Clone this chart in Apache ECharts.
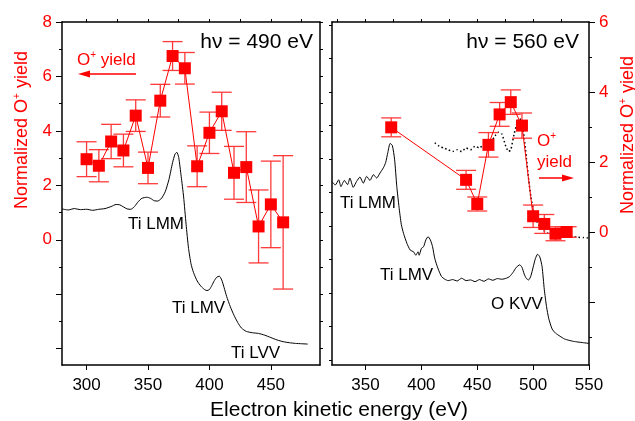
<!DOCTYPE html>
<html>
<head>
<meta charset="utf-8">
<script src="https://cdn.jsdelivr.net/npm/echarts@6/dist/echarts.min.js"></script>
<style>
  html, body { margin: 0; padding: 0; background: #fff; }
  #chart { width: 635px; height: 421px; }
</style>
</head>
<body>
<div id="chart"></div>
<script>
// 两个面板: hv = 490 eV (左) 和 hv = 560 eV (右)
var FONT = 'Arial, "Liberation Sans", sans-serif';
var RED = '#ff0000';

// 左面板 O+ 产额
var leftE = [300, 310, 320, 330, 340, 350, 360, 370, 380, 390, 400, 410, 420, 430, 440, 450, 460];
var leftYield = [2.96, 2.72, 3.61, 3.28, 4.56, 2.64, 5.11, 6.75, 6.30, 2.70, 3.93, 4.72, 2.46, 2.67, 0.49, 1.30, 0.64];
var leftErr = [0.64, 0.59, 0.63, 0.60, 0.58, 0.58, 0.60, 0.53, 0.58, 0.75, 0.76, 0.70, 0.97, 1.30, 1.34, 1.59, 2.45];

// 右面板 O+ 产额
var rightE = [373, 440, 450, 460, 470, 480, 490, 500, 510, 520, 530];
var rightYield = [2.99, 1.49, 0.80, 2.49, 3.36, 3.71, 3.04, 0.45, 0.23, -0.05, 0.00];
var rightErr = [0.27, 0.27, 0.20, 0.35, 0.34, 0.35, 0.36, 0.32, 0.27, 0.20, 0.15];

// 俄歇电子谱 (任意单位)
var leftSpecE = [280, 285, 290, 295, 300, 305, 310, 315, 320, 324, 327, 330, 333, 336, 339, 342, 345, 349, 352, 355, 358, 361, 364, 367, 370, 372, 373.5, 375, 377, 379, 381, 383, 385, 387, 390, 393, 396, 398, 400, 402, 404, 406, 408, 410, 412, 414, 417, 420, 423, 426, 430, 435, 440, 445, 450, 455, 460, 465, 470, 475, 480];
var leftSpecI = [45.5, 45.2, 45.6, 45.3, 45.4, 45.1, 45.4, 45.6, 46.2, 46.8, 46.7, 46.1, 45.5, 45.4, 46.2, 47.6, 48.6, 48.9, 48.6, 47.9, 47.8, 48.6, 50.5, 54, 59, 61.5, 62, 60.5, 55, 49, 41, 34, 29.5, 27, 24.5, 23, 22, 21.7, 22, 23.2, 24.6, 25.6, 25.9, 24.8, 22.5, 20, 17, 14.5, 12.4, 10.8, 9.8, 9.4, 9.2, 8.7, 8.0, 7.3, 6.8, 6.5, 6.3, 6.2, 6.1];

var rightSpecE = [320, 323, 326, 328, 331, 334, 336, 339, 342, 345, 348, 351, 354, 357, 360, 363, 366, 368, 370, 372, 374, 376, 378, 380, 382, 384, 387, 390, 393, 395, 397, 398, 400, 402, 404, 406, 408, 410, 412, 415, 418, 421, 424, 428, 432, 436, 440, 444, 448, 452, 456, 460, 464, 468, 472, 476, 479, 482, 485, 488, 490, 492, 494, 496, 498, 500, 502, 504, 506, 508, 510, 512, 514, 517, 520, 524, 528, 532, 536, 540, 545, 550];
var rightSpecI = [53.4, 52.5, 54, 52, 53.8, 52.6, 54.5, 51.8, 53.5, 54.8, 53, 55, 53.8, 55.5, 54.5, 56, 57.5, 59, 62, 64.6, 64, 60, 52, 46, 41, 38.4, 35.5, 33.5, 33, 32, 33, 32, 34, 34.5, 36.5, 37.4, 36.5, 34.5, 31, 28, 25.8, 25, 24.6, 24.9, 24.5, 25.3, 24.6, 24.8, 24.3, 24.9, 24.4, 25.1, 24.7, 25.2, 25, 25.3, 25.8, 27, 28.5, 29.2, 28.5, 26.5, 25.2, 24.8, 26, 28.5, 31, 32.3, 31.5, 28.7, 22, 17, 13.5, 10.5, 9.3, 8.4, 7.6, 7.2, 6.9, 6.7, 6.5, 6.3];

// 右面板虚线 (点线)
var dotE = [412, 416, 420, 424, 428, 432, 436, 440, 444, 448, 452, 456, 460, 463, 466, 469, 472, 475, 478, 480, 483, 486, 488, 490, 492, 494, 496, 498, 500, 502, 505, 508, 512, 516, 520, 525, 530, 535, 540, 545, 549];
var dotV = [2.55, 2.45, 2.4, 2.35, 2.3, 2.35, 2.3, 2.4, 2.35, 2.45, 2.4, 2.5, 2.5, 2.6, 2.75, 2.85, 2.8, 2.5, 2.3, 2.35, 2.8, 3.15, 3.25, 3.1, 2.7, 2.1, 1.5, 1.0, 0.65, 0.4, 0.2, 0.08, -0.02, -0.06, -0.08, -0.1, -0.12, -0.13, -0.15, -0.16, -0.17];

// 刻度
var leftXLabels = [300, 350, 400, 450];
var leftXMinor = [325, 375, 425, 475];
var leftXTop = [300, 325, 350, 375, 400, 425, 450, 475];
var rightXLabels = [350, 400, 450, 500, 550];
var rightXMinor = [325, 375, 425, 475, 525];
var rightXTop = [325, 350, 375, 400, 425, 450, 475, 500, 525];
var leftYLabels = [0, 2, 4, 6, 8];
var leftYMajor = [-4, -2, 0, 2, 4, 6, 8];
var leftYMinor = [-3, -1, 1, 3, 5, 7];
var leftYAll = [-4, -3, -2, -1, 0, 1, 2, 3, 4, 5, 6, 7, 8];
var rightYLabels = [0, 2, 4, 6];
var rightYMajor = [-2, 0, 2, 4, 6];
var rightYMinor = [-3, -1, 1, 3, 5];
var midTicks = [0, 1, 2, 3, 4, 5, 6, 7, 8, 9, 10];

function zip(a, b) {
  return a.map(function (v, i) { return [v, b[i]]; });
}
function errData(e, v, err) {
  return e.map(function (x, i) { return [x, v[i] - err[i], v[i] + err[i]]; });
}
function errRender(params, api) {
  var x = api.value(0);
  var lo = api.coord([x, api.value(1)]);
  var hi = api.coord([x, api.value(2)]);
  var w = 10;
  var st = { stroke: '#ff3a3a', lineWidth: 1.3 };
  return {
    type: 'group',
    children: [
      { type: 'line', shape: { x1: lo[0], y1: lo[1], x2: hi[0], y2: hi[1] }, style: st },
      { type: 'line', shape: { x1: lo[0] - w, y1: lo[1], x2: lo[0] + w, y2: lo[1] }, style: st },
      { type: 'line', shape: { x1: hi[0] - w, y1: hi[1], x2: hi[0] + w, y2: hi[1] }, style: st }
    ]
  };
}

var lineBlack = { onZero: false, lineStyle: { color: '#000', width: 1.5 } };
var noLine = { show: false, onZero: false };

function tickAxis(opts) {
  // 只画刻度线的坐标轴
  return Object.assign({
    type: 'value',
    axisLine: noLine,
    splitLine: { show: false },
    axisLabel: { show: false }
  }, opts);
}

var myChart = echarts.init(document.getElementById('chart'));

var option = {
  animation: false,
  backgroundColor: '#fff',
  grid: [
    { left: 62, top: 22, width: 258, height: 343 },
    { left: 332, top: 22, width: 257, height: 343 }
  ],
  xAxis: [
    {
      type: 'value', gridIndex: 0, min: 280, max: 490,
      axisLine: lineBlack, splitLine: { show: false },
      axisTick: { customValues: leftXLabels, length: 5, lineStyle: { color: '#000' } },
      axisLabel: { customValues: leftXLabels, color: '#000', fontSize: 17, fontFamily: FONT, margin: 12 }
    },
    tickAxis({ gridIndex: 0, min: 280, max: 490,
      axisTick: { customValues: leftXMinor, length: 3, lineStyle: { color: '#000' } } }),
    tickAxis({ gridIndex: 0, min: 280, max: 490, position: 'top',
      axisLine: lineBlack,
      axisTick: { customValues: leftXTop, length: 3, lineStyle: { color: '#000' } } }),
    {
      type: 'value', gridIndex: 1, min: 320, max: 550,
      axisLine: lineBlack, splitLine: { show: false },
      axisTick: { customValues: rightXLabels, length: 5, lineStyle: { color: '#000' } },
      axisLabel: { customValues: rightXLabels, color: '#000', fontSize: 17, fontFamily: FONT, margin: 12 }
    },
    tickAxis({ gridIndex: 1, min: 320, max: 550,
      axisTick: { customValues: rightXMinor, length: 3, lineStyle: { color: '#000' } } }),
    tickAxis({ gridIndex: 1, min: 320, max: 550, position: 'top',
      axisLine: lineBlack,
      axisTick: { customValues: rightXTop, length: 3, lineStyle: { color: '#000' } } })
  ],
  yAxis: [
    {
      type: 'value', gridIndex: 0, min: -4.6, max: 8, position: 'left',
      axisLine: lineBlack, splitLine: { show: false },
      axisTick: { customValues: leftYMajor, length: 6, lineStyle: { color: '#000' } },
      axisLabel: { customValues: leftYLabels, color: RED, fontSize: 17, fontFamily: FONT, margin: 10 }
    },
    tickAxis({ gridIndex: 0, min: -4.6, max: 8, position: 'left',
      axisTick: { customValues: leftYMinor, length: 3, lineStyle: { color: '#000' } } }),
    tickAxis({ gridIndex: 0, min: -4.6, max: 8, position: 'right',
      axisLine: lineBlack,
      axisTick: { customValues: leftYAll, length: 3, lineStyle: { color: '#000' } } }),
    { type: 'value', gridIndex: 0, min: 0, max: 100, show: false },
    tickAxis({ gridIndex: 1, min: -0.15, max: 10.09, position: 'left',
      axisLine: lineBlack,
      axisTick: { customValues: midTicks, length: 3, lineStyle: { color: '#000' } } }),
    {
      type: 'value', gridIndex: 1, min: -3.8, max: 6, position: 'right',
      axisLine: lineBlack, splitLine: { show: false },
      axisTick: { customValues: rightYMajor, length: 6, lineStyle: { color: '#000' } },
      axisLabel: { customValues: rightYLabels, color: RED, fontSize: 17, fontFamily: FONT, margin: 10 }
    },
    tickAxis({ gridIndex: 1, min: -3.8, max: 6, position: 'right',
      axisTick: { customValues: rightYMinor, length: 3, lineStyle: { color: '#000' } } }),
    { type: 'value', gridIndex: 1, min: 0, max: 100, show: false }
  ],
  series: [
    {
      type: 'line', xAxisIndex: 0, yAxisIndex: 3, data: zip(leftSpecE, leftSpecI),
      showSymbol: false, smooth: 0.2, lineStyle: { color: '#000', width: 1 }, z: 1
    },
    {
      type: 'line', xAxisIndex: 3, yAxisIndex: 7, data: zip(rightSpecE, rightSpecI),
      showSymbol: false, smooth: 0.2, lineStyle: { color: '#000', width: 1 }, z: 1
    },
    {
      type: 'line', xAxisIndex: 3, yAxisIndex: 5, data: zip(dotE, dotV),
      showSymbol: false, smooth: 0.2, lineStyle: { color: '#000', width: 1.5, type: [1.5, 2.5] }, z: 1
    },
    {
      type: 'custom', xAxisIndex: 0, yAxisIndex: 0, data: errData(leftE, leftYield, leftErr),
      renderItem: errRender, encode: { x: 0, y: [1, 2] }, z: 2
    },
    {
      type: 'custom', xAxisIndex: 3, yAxisIndex: 5, data: errData(rightE, rightYield, rightErr),
      renderItem: errRender, encode: { x: 0, y: [1, 2] }, z: 2
    },
    {
      type: 'line', xAxisIndex: 0, yAxisIndex: 0, data: zip(leftE, leftYield),
      symbol: 'rect', symbolSize: 12, itemStyle: { color: RED },
      lineStyle: { color: RED, width: 1 }, z: 3
    },
    {
      type: 'line', xAxisIndex: 3, yAxisIndex: 5, data: zip(rightE, rightYield),
      symbol: 'rect', symbolSize: 12, itemStyle: { color: RED },
      lineStyle: { color: RED, width: 1 }, z: 3
    }
  ],
  graphic: [
    { type: 'text', x: 313, y: 42, style: { text: 'hν = 490 eV', fontSize: 21, fontFamily: FONT, fill: '#000', align: 'right', verticalAlign: 'middle' } },
    { type: 'text', x: 579, y: 42, style: { text: 'hν = 560 eV', fontSize: 21, fontFamily: FONT, fill: '#000', align: 'right', verticalAlign: 'middle' } },
    { type: 'text', x: 77, y: 60, style: {
      text: '{n|O}{s|+}{n| yield}', align: 'left', verticalAlign: 'middle',
      rich: { n: { fontSize: 17, fontFamily: FONT, fill: RED, lineHeight: 20 }, s: { fontSize: 10, fontFamily: FONT, fill: RED, verticalAlign: 'top', lineHeight: 20 } } } },
    { type: 'line', shape: { x1: 88, y1: 74, x2: 136, y2: 74 }, style: { stroke: RED, lineWidth: 1.5 } },
    { type: 'polygon', shape: { points: [[78, 74], [90, 70.5], [90, 77.5]] }, style: { fill: RED } },
    { type: 'text', x: 537, y: 141, style: {
      text: '{n|O}{s|+}', align: 'left', verticalAlign: 'middle',
      rich: { n: { fontSize: 17, fontFamily: FONT, fill: RED, lineHeight: 20 }, s: { fontSize: 10, fontFamily: FONT, fill: RED, verticalAlign: 'top', lineHeight: 20 } } } },
    { type: 'text', x: 537, y: 162, style: { text: 'yield', fontSize: 17, fontFamily: FONT, fill: RED, align: 'left', verticalAlign: 'middle' } },
    { type: 'line', shape: { x1: 539, y1: 178, x2: 564, y2: 178 }, style: { stroke: RED, lineWidth: 1.5 } },
    { type: 'polygon', shape: { points: [[574, 178], [562, 174.5], [562, 181.5]] }, style: { fill: RED } },
    { type: 'text', x: 128, y: 224, style: { text: 'Ti LMM', fontSize: 17, fontFamily: FONT, fill: '#000', align: 'left', verticalAlign: 'middle' } },
    { type: 'text', x: 172, y: 308, style: { text: 'Ti LMV', fontSize: 17, fontFamily: FONT, fill: '#000', align: 'left', verticalAlign: 'middle' } },
    { type: 'text', x: 231, y: 353, style: { text: 'Ti LVV', fontSize: 17, fontFamily: FONT, fill: '#000', align: 'left', verticalAlign: 'middle' } },
    { type: 'text', x: 340, y: 203, style: { text: 'Ti LMM', fontSize: 17, fontFamily: FONT, fill: '#000', align: 'left', verticalAlign: 'middle' } },
    { type: 'text', x: 380, y: 275, style: { text: 'Ti LMV', fontSize: 17, fontFamily: FONT, fill: '#000', align: 'left', verticalAlign: 'middle' } },
    { type: 'text', x: 491, y: 304, style: { text: 'O KVV', fontSize: 17, fontFamily: FONT, fill: '#000', align: 'left', verticalAlign: 'middle' } },
    { type: 'text', x: 339, y: 410, style: { text: 'Electron kinetic energy (eV)', fontSize: 21, fontFamily: FONT, fill: '#000', align: 'center', verticalAlign: 'middle' } },
    { type: 'text', x: 22, y: 130, rotation: Math.PI / 2, style: {
      text: '{n|Normalized O}{s|+}{n| yield}', align: 'center', verticalAlign: 'middle',
      rich: { n: { fontSize: 18, fontFamily: FONT, fill: RED, lineHeight: 20 }, s: { fontSize: 10, fontFamily: FONT, fill: RED, verticalAlign: 'top', lineHeight: 20 } } } },
    { type: 'text', x: 628, y: 135, rotation: Math.PI / 2, style: {
      text: '{n|Normalized O}{s|+}{n| yield}', align: 'center', verticalAlign: 'middle',
      rich: { n: { fontSize: 18, fontFamily: FONT, fill: RED, lineHeight: 20 }, s: { fontSize: 10, fontFamily: FONT, fill: RED, verticalAlign: 'top', lineHeight: 20 } } } }
  ]
};

myChart.setOption(option);
</script>
</body>
</html>
